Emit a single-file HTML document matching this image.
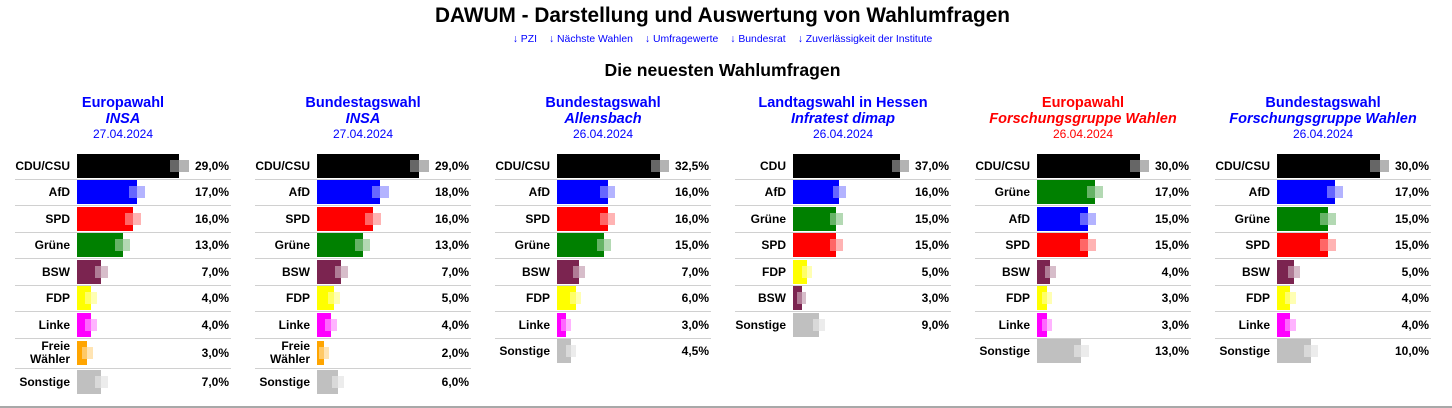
<!DOCTYPE html>
<html><head><meta charset="utf-8">
<style>
html,body{margin:0;padding:0;background:#fff;}
body{width:1452px;height:408px;position:relative;overflow:hidden;font-family:"Liberation Sans",Arial,sans-serif;color:#000;}
.a{position:absolute;white-space:nowrap;}
.t{position:absolute;left:0;width:1445px;text-align:center;white-space:nowrap;}
.h1{top:4px;font-size:20.8px;line-height:24px;font-weight:bold;}
.lk{top:32.5px;font-size:10.4px;line-height:14px;color:#0000ff;}
.lk span{margin:0 6px;}
.h2{top:58.5px;font-size:17.6px;line-height:22px;font-weight:bold;}
.pt{position:absolute;width:216px;text-align:center;white-space:nowrap;color:#0000ff;}
.p1{top:94.8px;font-size:14.5px;line-height:16px;font-weight:bold;}
.p2{top:111px;font-size:14.5px;line-height:16px;font-weight:bold;font-style:italic;}
.p3{top:126.8px;font-size:12px;line-height:14px;}
.red{color:#ff0000;}
.r{position:absolute;left:0;width:1452px;height:24px;}
.r div{position:absolute;}
.l{top:0;width:70px;height:24px;line-height:24px;text-align:right;font-size:12px;font-weight:bold;white-space:nowrap;}
.l2{top:-1px;line-height:13.3px;height:auto;}
.b{top:0;height:24px;}
.o{top:6px;height:12px;}
.v{top:0;width:60px;height:24px;line-height:24px;text-align:right;font-size:12px;font-weight:bold;}
.s{top:25px;width:216px;height:1px;background:#d0d0d0;}
.hr{position:absolute;left:0;top:406px;width:1452px;height:2px;background:#a8a8a8;}
</style></head><body>

<div class="t h1">DAWUM - Darstellung und Auswertung von Wahlumfragen</div>
<div class="t lk"><span>↓ PZI</span><span>↓ Nächste Wahlen</span><span>↓ Umfragewerte</span><span>↓ Bundesrat</span><span>↓ Zuverlässigkeit der Institute</span></div>
<div class="t h2">Die neuesten Wahlumfragen</div>

<!-- Panel headers -->
<div class="pt p1" style="left:15px">Europawahl</div>
<div class="pt p2" style="left:15px">INSA</div>
<div class="pt p3" style="left:15px">27.04.2024</div>

<div class="pt p1" style="left:255px">Bundestagswahl</div>
<div class="pt p2" style="left:255px">INSA</div>
<div class="pt p3" style="left:255px">27.04.2024</div>

<div class="pt p1" style="left:495px">Bundestagswahl</div>
<div class="pt p2" style="left:495px">Allensbach</div>
<div class="pt p3" style="left:495px">26.04.2024</div>

<div class="pt p1" style="left:735px">Landtagswahl in Hessen</div>
<div class="pt p2" style="left:735px">Infratest dimap</div>
<div class="pt p3" style="left:735px">26.04.2024</div>

<div class="pt p1 red" style="left:975px">Europawahl</div>
<div class="pt p2 red" style="left:975px">Forschungsgruppe Wahlen</div>
<div class="pt p3 red" style="left:975px">26.04.2024</div>

<div class="pt p1" style="left:1215px">Bundestagswahl</div>
<div class="pt p2" style="left:1215px">Forschungsgruppe Wahlen</div>
<div class="pt p3" style="left:1215px">26.04.2024</div>

<!-- Panel 1 -->
<div class="r" style="top:154px"><div class="l" style="left:0">CDU/CSU</div><div class="b" style="left:77px;width:102px;background:#000"></div><div class="o" style="left:170px;width:9px;background:#666"></div><div class="o" style="left:179px;width:10px;background:#b3b3b3"></div><div class="v" style="left:169px">29,0%</div><div class="s" style="left:15px"></div></div>
<div class="r" style="top:180px"><div class="l" style="left:0">AfD</div><div class="b" style="left:77px;width:60px;background:#0000ff"></div><div class="o" style="left:129px;width:8px;background:#6666ff"></div><div class="o" style="left:137px;width:8px;background:#b3b3ff"></div><div class="v" style="left:169px">17,0%</div><div class="s" style="left:15px"></div></div>
<div class="r" style="top:207px"><div class="l" style="left:0">SPD</div><div class="b" style="left:77px;width:56px;background:#ff0000"></div><div class="o" style="left:125px;width:8px;background:#ff6666"></div><div class="o" style="left:133px;width:8px;background:#ffb3b3"></div><div class="v" style="left:169px">16,0%</div><div class="s" style="left:15px"></div></div>
<div class="r" style="top:233px"><div class="l" style="left:0">Grüne</div><div class="b" style="left:77px;width:46px;background:#008000"></div><div class="o" style="left:115px;width:8px;background:#66b366"></div><div class="o" style="left:123px;width:7px;background:#b3d9b3"></div><div class="v" style="left:169px">13,0%</div><div class="s" style="left:15px"></div></div>
<div class="r" style="top:260px"><div class="l" style="left:0">BSW</div><div class="b" style="left:77px;width:24px;background:#7b2450"></div><div class="o" style="left:95px;width:6px;background:#b07c96"></div><div class="o" style="left:101px;width:7px;background:#d7bdca"></div><div class="v" style="left:169px">7,0%</div><div class="s" style="left:15px"></div></div>
<div class="r" style="top:286px"><div class="l" style="left:0">FDP</div><div class="b" style="left:77px;width:14px;background:#ffff00"></div><div class="o" style="left:85px;width:6px;background:#ffff66"></div><div class="o" style="left:91px;width:6px;background:#ffffb3"></div><div class="v" style="left:169px">4,0%</div><div class="s" style="left:15px"></div></div>
<div class="r" style="top:313px"><div class="l" style="left:0">Linke</div><div class="b" style="left:77px;width:14px;background:#ff00ff"></div><div class="o" style="left:85px;width:6px;background:#ff66ff"></div><div class="o" style="left:91px;width:6px;background:#ffb3ff"></div><div class="v" style="left:169px">4,0%</div><div class="s" style="left:15px"></div></div>
<div class="r" style="top:341px"><div class="l l2" style="left:0">Freie<br>Wähler</div><div class="b" style="left:77px;width:10px;background:#ffa500"></div><div class="o" style="left:82px;width:5px;background:#ffc966"></div><div class="o" style="left:87px;width:6px;background:#ffe4b3"></div><div class="v" style="left:169px">3,0%</div><div class="s" style="left:15px;top:27px"></div></div>
<div class="r" style="top:370px"><div class="l" style="left:0">Sonstige</div><div class="b" style="left:77px;width:24px;background:#c0c0c0"></div><div class="o" style="left:95px;width:6px;background:#d9d9d9"></div><div class="o" style="left:101px;width:7px;background:#ececec"></div><div class="v" style="left:169px">7,0%</div></div>

<!-- Panel 2 -->
<div class="r" style="top:154px"><div class="l" style="left:240px">CDU/CSU</div><div class="b" style="left:317px;width:102px;background:#000"></div><div class="o" style="left:410px;width:9px;background:#666"></div><div class="o" style="left:419px;width:10px;background:#b3b3b3"></div><div class="v" style="left:409px">29,0%</div><div class="s" style="left:255px"></div></div>
<div class="r" style="top:180px"><div class="l" style="left:240px">AfD</div><div class="b" style="left:317px;width:63px;background:#0000ff"></div><div class="o" style="left:372px;width:8px;background:#6666ff"></div><div class="o" style="left:380px;width:9px;background:#b3b3ff"></div><div class="v" style="left:409px">18,0%</div><div class="s" style="left:255px"></div></div>
<div class="r" style="top:207px"><div class="l" style="left:240px">SPD</div><div class="b" style="left:317px;width:56px;background:#ff0000"></div><div class="o" style="left:365px;width:8px;background:#ff6666"></div><div class="o" style="left:373px;width:8px;background:#ffb3b3"></div><div class="v" style="left:409px">16,0%</div><div class="s" style="left:255px"></div></div>
<div class="r" style="top:233px"><div class="l" style="left:240px">Grüne</div><div class="b" style="left:317px;width:46px;background:#008000"></div><div class="o" style="left:355px;width:8px;background:#66b366"></div><div class="o" style="left:363px;width:7px;background:#b3d9b3"></div><div class="v" style="left:409px">13,0%</div><div class="s" style="left:255px"></div></div>
<div class="r" style="top:260px"><div class="l" style="left:240px">BSW</div><div class="b" style="left:317px;width:24px;background:#7b2450"></div><div class="o" style="left:335px;width:6px;background:#b07c96"></div><div class="o" style="left:341px;width:7px;background:#d7bdca"></div><div class="v" style="left:409px">7,0%</div><div class="s" style="left:255px"></div></div>
<div class="r" style="top:286px"><div class="l" style="left:240px">FDP</div><div class="b" style="left:317px;width:17px;background:#ffff00"></div><div class="o" style="left:328px;width:6px;background:#ffff66"></div><div class="o" style="left:334px;width:6px;background:#ffffb3"></div><div class="v" style="left:409px">5,0%</div><div class="s" style="left:255px"></div></div>
<div class="r" style="top:313px"><div class="l" style="left:240px">Linke</div><div class="b" style="left:317px;width:14px;background:#ff00ff"></div><div class="o" style="left:325px;width:6px;background:#ff66ff"></div><div class="o" style="left:331px;width:6px;background:#ffb3ff"></div><div class="v" style="left:409px">4,0%</div><div class="s" style="left:255px"></div></div>
<div class="r" style="top:341px"><div class="l l2" style="left:240px">Freie<br>Wähler</div><div class="b" style="left:317px;width:7px;background:#ffa500"></div><div class="o" style="left:319px;width:5px;background:#ffc966"></div><div class="o" style="left:324px;width:5px;background:#ffe4b3"></div><div class="v" style="left:409px">2,0%</div><div class="s" style="left:255px;top:27px"></div></div>
<div class="r" style="top:370px"><div class="l" style="left:240px">Sonstige</div><div class="b" style="left:317px;width:21px;background:#c0c0c0"></div><div class="o" style="left:332px;width:6px;background:#d9d9d9"></div><div class="o" style="left:338px;width:6px;background:#ececec"></div><div class="v" style="left:409px">6,0%</div></div>

<!-- Panel 3 -->
<div class="r" style="top:154px"><div class="l" style="left:480px">CDU/CSU</div><div class="b" style="left:557px;width:103px;background:#000"></div><div class="o" style="left:651px;width:9px;background:#666"></div><div class="o" style="left:660px;width:9px;background:#b3b3b3"></div><div class="v" style="left:649px">32,5%</div><div class="s" style="left:495px"></div></div>
<div class="r" style="top:180px"><div class="l" style="left:480px">AfD</div><div class="b" style="left:557px;width:51px;background:#0000ff"></div><div class="o" style="left:600px;width:8px;background:#6666ff"></div><div class="o" style="left:608px;width:7px;background:#b3b3ff"></div><div class="v" style="left:649px">16,0%</div><div class="s" style="left:495px"></div></div>
<div class="r" style="top:207px"><div class="l" style="left:480px">SPD</div><div class="b" style="left:557px;width:51px;background:#ff0000"></div><div class="o" style="left:600px;width:8px;background:#ff6666"></div><div class="o" style="left:608px;width:7px;background:#ffb3b3"></div><div class="v" style="left:649px">16,0%</div><div class="s" style="left:495px"></div></div>
<div class="r" style="top:233px"><div class="l" style="left:480px">Grüne</div><div class="b" style="left:557px;width:47px;background:#008000"></div><div class="o" style="left:597px;width:7px;background:#66b366"></div><div class="o" style="left:604px;width:7px;background:#b3d9b3"></div><div class="v" style="left:649px">15,0%</div><div class="s" style="left:495px"></div></div>
<div class="r" style="top:260px"><div class="l" style="left:480px">BSW</div><div class="b" style="left:557px;width:22px;background:#7b2450"></div><div class="o" style="left:573px;width:6px;background:#b07c96"></div><div class="o" style="left:579px;width:6px;background:#d7bdca"></div><div class="v" style="left:649px">7,0%</div><div class="s" style="left:495px"></div></div>
<div class="r" style="top:286px"><div class="l" style="left:480px">FDP</div><div class="b" style="left:557px;width:19px;background:#ffff00"></div><div class="o" style="left:570px;width:6px;background:#ffff66"></div><div class="o" style="left:576px;width:5px;background:#ffffb3"></div><div class="v" style="left:649px">6,0%</div><div class="s" style="left:495px"></div></div>
<div class="r" style="top:313px"><div class="l" style="left:480px">Linke</div><div class="b" style="left:557px;width:9px;background:#ff00ff"></div><div class="o" style="left:561px;width:5px;background:#ff66ff"></div><div class="o" style="left:566px;width:5px;background:#ffb3ff"></div><div class="v" style="left:649px">3,0%</div><div class="s" style="left:495px"></div></div>
<div class="r" style="top:339px"><div class="l" style="left:480px">Sonstige</div><div class="b" style="left:557px;width:14px;background:#c0c0c0"></div><div class="o" style="left:566px;width:5px;background:#d9d9d9"></div><div class="o" style="left:571px;width:5px;background:#ececec"></div><div class="v" style="left:649px">4,5%</div></div>

<!-- Panel 4 -->
<div class="r" style="top:154px"><div class="l" style="left:716px">CDU</div><div class="b" style="left:793px;width:107px;background:#000"></div><div class="o" style="left:892px;width:8px;background:#666"></div><div class="o" style="left:900px;width:9px;background:#b3b3b3"></div><div class="v" style="left:889px">37,0%</div><div class="s" style="left:735px"></div></div>
<div class="r" style="top:180px"><div class="l" style="left:716px">AfD</div><div class="b" style="left:793px;width:46px;background:#0000ff"></div><div class="o" style="left:833px;width:6px;background:#6666ff"></div><div class="o" style="left:839px;width:7px;background:#b3b3ff"></div><div class="v" style="left:889px">16,0%</div><div class="s" style="left:735px"></div></div>
<div class="r" style="top:207px"><div class="l" style="left:716px">Grüne</div><div class="b" style="left:793px;width:43px;background:#008000"></div><div class="o" style="left:830px;width:6px;background:#66b366"></div><div class="o" style="left:836px;width:7px;background:#b3d9b3"></div><div class="v" style="left:889px">15,0%</div><div class="s" style="left:735px"></div></div>
<div class="r" style="top:233px"><div class="l" style="left:716px">SPD</div><div class="b" style="left:793px;width:43px;background:#ff0000"></div><div class="o" style="left:830px;width:6px;background:#ff6666"></div><div class="o" style="left:836px;width:7px;background:#ffb3b3"></div><div class="v" style="left:889px">15,0%</div><div class="s" style="left:735px"></div></div>
<div class="r" style="top:260px"><div class="l" style="left:716px">FDP</div><div class="b" style="left:793px;width:14px;background:#ffff00"></div><div class="o" style="left:802px;width:5px;background:#ffff66"></div><div class="o" style="left:807px;width:5px;background:#ffffb3"></div><div class="v" style="left:889px">5,0%</div><div class="s" style="left:735px"></div></div>
<div class="r" style="top:286px"><div class="l" style="left:716px">BSW</div><div class="b" style="left:793px;width:9px;background:#7b2450"></div><div class="o" style="left:797px;width:5px;background:#b07c96"></div><div class="o" style="left:802px;width:4px;background:#d7bdca"></div><div class="v" style="left:889px">3,0%</div><div class="s" style="left:735px"></div></div>
<div class="r" style="top:313px"><div class="l" style="left:716px">Sonstige</div><div class="b" style="left:793px;width:26px;background:#c0c0c0"></div><div class="o" style="left:813px;width:6px;background:#d9d9d9"></div><div class="o" style="left:819px;width:6px;background:#ececec"></div><div class="v" style="left:889px">9,0%</div></div>

<!-- Panel 5 -->
<div class="r" style="top:154px"><div class="l" style="left:960px">CDU/CSU</div><div class="b" style="left:1037px;width:103px;background:#000"></div><div class="o" style="left:1130px;width:10px;background:#666"></div><div class="o" style="left:1140px;width:9px;background:#b3b3b3"></div><div class="v" style="left:1129px">30,0%</div><div class="s" style="left:975px"></div></div>
<div class="r" style="top:180px"><div class="l" style="left:960px">Grüne</div><div class="b" style="left:1037px;width:58px;background:#008000"></div><div class="o" style="left:1087px;width:8px;background:#66b366"></div><div class="o" style="left:1095px;width:8px;background:#b3d9b3"></div><div class="v" style="left:1129px">17,0%</div><div class="s" style="left:975px"></div></div>
<div class="r" style="top:207px"><div class="l" style="left:960px">AfD</div><div class="b" style="left:1037px;width:51px;background:#0000ff"></div><div class="o" style="left:1080px;width:8px;background:#6666ff"></div><div class="o" style="left:1088px;width:8px;background:#b3b3ff"></div><div class="v" style="left:1129px">15,0%</div><div class="s" style="left:975px"></div></div>
<div class="r" style="top:233px"><div class="l" style="left:960px">SPD</div><div class="b" style="left:1037px;width:51px;background:#ff0000"></div><div class="o" style="left:1080px;width:8px;background:#ff6666"></div><div class="o" style="left:1088px;width:8px;background:#ffb3b3"></div><div class="v" style="left:1129px">15,0%</div><div class="s" style="left:975px"></div></div>
<div class="r" style="top:260px"><div class="l" style="left:960px">BSW</div><div class="b" style="left:1037px;width:13px;background:#7b2450"></div><div class="o" style="left:1045px;width:5px;background:#b07c96"></div><div class="o" style="left:1050px;width:6px;background:#d7bdca"></div><div class="v" style="left:1129px">4,0%</div><div class="s" style="left:975px"></div></div>
<div class="r" style="top:286px"><div class="l" style="left:960px">FDP</div><div class="b" style="left:1037px;width:10px;background:#ffff00"></div><div class="o" style="left:1042px;width:5px;background:#ffff66"></div><div class="o" style="left:1047px;width:5px;background:#ffffb3"></div><div class="v" style="left:1129px">3,0%</div><div class="s" style="left:975px"></div></div>
<div class="r" style="top:313px"><div class="l" style="left:960px">Linke</div><div class="b" style="left:1037px;width:10px;background:#ff00ff"></div><div class="o" style="left:1042px;width:5px;background:#ff66ff"></div><div class="o" style="left:1047px;width:5px;background:#ffb3ff"></div><div class="v" style="left:1129px">3,0%</div><div class="s" style="left:975px"></div></div>
<div class="r" style="top:339px"><div class="l" style="left:960px">Sonstige</div><div class="b" style="left:1037px;width:44px;background:#c0c0c0"></div><div class="o" style="left:1074px;width:7px;background:#d9d9d9"></div><div class="o" style="left:1081px;width:8px;background:#ececec"></div><div class="v" style="left:1129px">13,0%</div></div>

<!-- Panel 6 -->
<div class="r" style="top:154px"><div class="l" style="left:1200px">CDU/CSU</div><div class="b" style="left:1277px;width:103px;background:#000"></div><div class="o" style="left:1370px;width:10px;background:#666"></div><div class="o" style="left:1380px;width:9px;background:#b3b3b3"></div><div class="v" style="left:1369px">30,0%</div><div class="s" style="left:1215px"></div></div>
<div class="r" style="top:180px"><div class="l" style="left:1200px">AfD</div><div class="b" style="left:1277px;width:58px;background:#0000ff"></div><div class="o" style="left:1327px;width:8px;background:#6666ff"></div><div class="o" style="left:1335px;width:8px;background:#b3b3ff"></div><div class="v" style="left:1369px">17,0%</div><div class="s" style="left:1215px"></div></div>
<div class="r" style="top:207px"><div class="l" style="left:1200px">Grüne</div><div class="b" style="left:1277px;width:51px;background:#008000"></div><div class="o" style="left:1320px;width:8px;background:#66b366"></div><div class="o" style="left:1328px;width:8px;background:#b3d9b3"></div><div class="v" style="left:1369px">15,0%</div><div class="s" style="left:1215px"></div></div>
<div class="r" style="top:233px"><div class="l" style="left:1200px">SPD</div><div class="b" style="left:1277px;width:51px;background:#ff0000"></div><div class="o" style="left:1320px;width:8px;background:#ff6666"></div><div class="o" style="left:1328px;width:8px;background:#ffb3b3"></div><div class="v" style="left:1369px">15,0%</div><div class="s" style="left:1215px"></div></div>
<div class="r" style="top:260px"><div class="l" style="left:1200px">BSW</div><div class="b" style="left:1277px;width:17px;background:#7b2450"></div><div class="o" style="left:1288px;width:6px;background:#b07c96"></div><div class="o" style="left:1294px;width:6px;background:#d7bdca"></div><div class="v" style="left:1369px">5,0%</div><div class="s" style="left:1215px"></div></div>
<div class="r" style="top:286px"><div class="l" style="left:1200px">FDP</div><div class="b" style="left:1277px;width:13px;background:#ffff00"></div><div class="o" style="left:1285px;width:5px;background:#ffff66"></div><div class="o" style="left:1290px;width:6px;background:#ffffb3"></div><div class="v" style="left:1369px">4,0%</div><div class="s" style="left:1215px"></div></div>
<div class="r" style="top:313px"><div class="l" style="left:1200px">Linke</div><div class="b" style="left:1277px;width:13px;background:#ff00ff"></div><div class="o" style="left:1285px;width:5px;background:#ff66ff"></div><div class="o" style="left:1290px;width:6px;background:#ffb3ff"></div><div class="v" style="left:1369px">4,0%</div><div class="s" style="left:1215px"></div></div>
<div class="r" style="top:339px"><div class="l" style="left:1200px">Sonstige</div><div class="b" style="left:1277px;width:34px;background:#c0c0c0"></div><div class="o" style="left:1304px;width:7px;background:#d9d9d9"></div><div class="o" style="left:1311px;width:7px;background:#ececec"></div><div class="v" style="left:1369px">10,0%</div></div>

<div class="hr"></div>
</body></html>
